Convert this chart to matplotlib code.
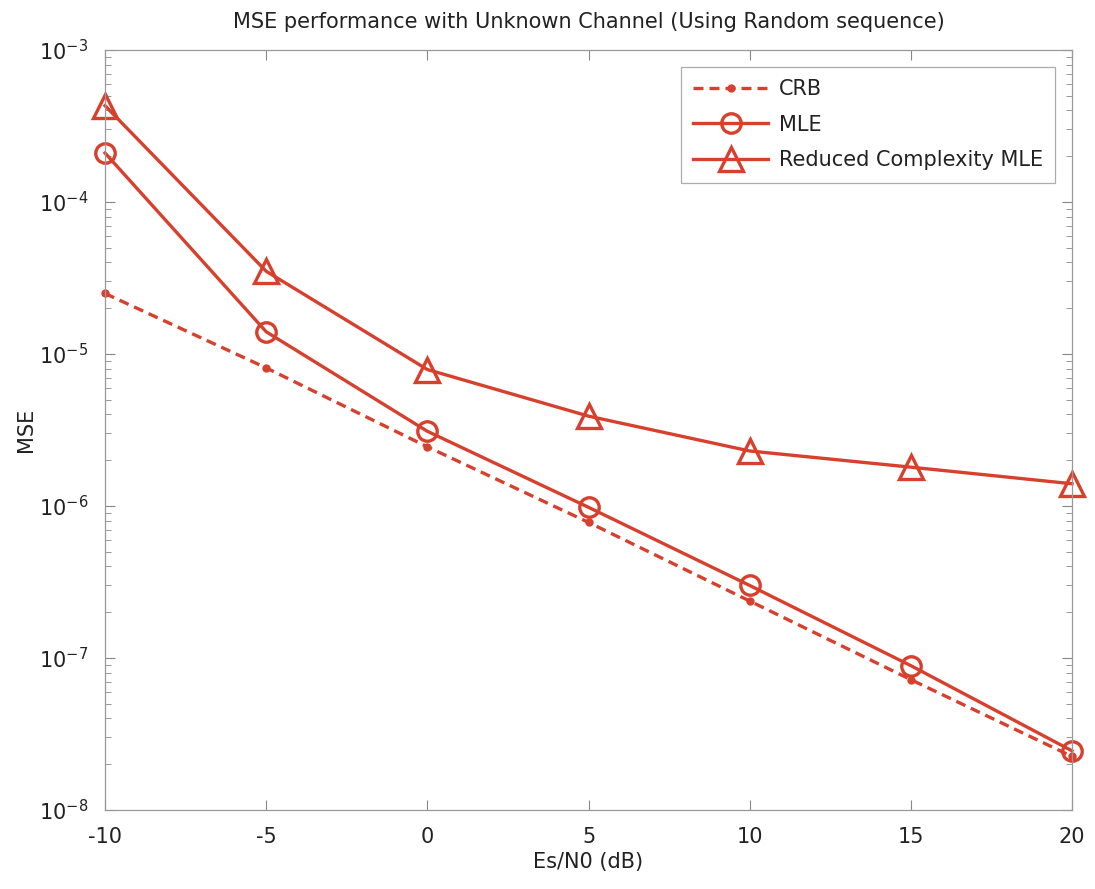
import matplotlib
matplotlib.use("Agg")
import matplotlib.pyplot as plt
from matplotlib.ticker import LogLocator, NullFormatter

plt.rcParams['font.family'] = ['DejaVu Sans']

snr_db = [-10, -5, 0, 5, 10, 15, 20]
crb = [2.5e-5, 8.1e-6, 2.45e-6, 7.8e-7, 2.37e-7, 7.2e-8, 2.25e-8]
mle = [2.1e-4, 1.4e-5, 3.1e-6, 9.8e-7, 3.0e-7, 8.9e-8, 2.45e-8]
rc_mle = [4.3e-4, 3.5e-5, 7.9e-6, 3.9e-6, 2.3e-6, 1.8e-6, 1.4e-6]
x_ticks = [-10, -5, 0, 5, 10, 15, 20]

red = '#d8402e'

fig = plt.figure(figsize=(10.95, 8.89), dpi=100)
ax = fig.add_axes([0.0959, 0.0889, 0.979 - 0.0959, 0.9438 - 0.0889])

ax.plot(snr_db, crb, '--', color=red, lw=2.4, marker='o', ms=5, label='CRB', clip_on=False,
        dashes=(3, 1.8))
ax.plot(snr_db, mle, '-', color=red, lw=2.4, marker='o', ms=14, mfc='none', mew=2.4,
        label='MLE', clip_on=False)
ax.plot(snr_db, rc_mle, '-', color=red, lw=2.4, marker='^', ms=17, mfc='none', mew=2.4,
        label='Reduced Complexity MLE', clip_on=False)

ax.set_yscale('log')
ax.set_xlim(-10, 20)
ax.set_ylim(1e-8, 1e-3)
ax.set_xticks(x_ticks)
ax.set_xticklabels([str(v) for v in x_ticks])
ax.yaxis.set_major_locator(LogLocator(base=10, numticks=10))
ax.yaxis.set_minor_locator(LogLocator(base=10, subs=range(2, 10), numticks=20))
ax.yaxis.set_minor_formatter(NullFormatter())

ax.tick_params(which='both', direction='in', top=True, right=True, colors='#888888',
               labelcolor='#222222', labelsize=15)
ax.tick_params(which='major', length=7)
ax.tick_params(which='minor', length=4)
ax.tick_params(axis='x', pad=12)
ax.tick_params(axis='y', pad=12)
for s in ax.spines.values():
    s.set_color('#999999')
    s.set_linewidth(0.9)

ax.set_xlabel('Es/N0 (dB)', fontsize=15, color='#222222', labelpad=4)
ax.set_ylabel('MSE', fontsize=15, color='#222222', labelpad=2)
ax.set_title('MSE performance with Unknown Channel (Using Random sequence)', fontsize=15,
             color='#222222', pad=16)

leg = ax.legend(loc='upper right', fontsize=15, frameon=True, fancybox=False,
                edgecolor='#999999', borderaxespad=0.8, handlelength=3.6,
                handletextpad=0.5, labelspacing=0.75, borderpad=0.6)
leg.get_frame().set_linewidth(0.9)
for t in leg.get_texts():
    t.set_color('#222222')

fig.savefig('out.png', dpi=100)
